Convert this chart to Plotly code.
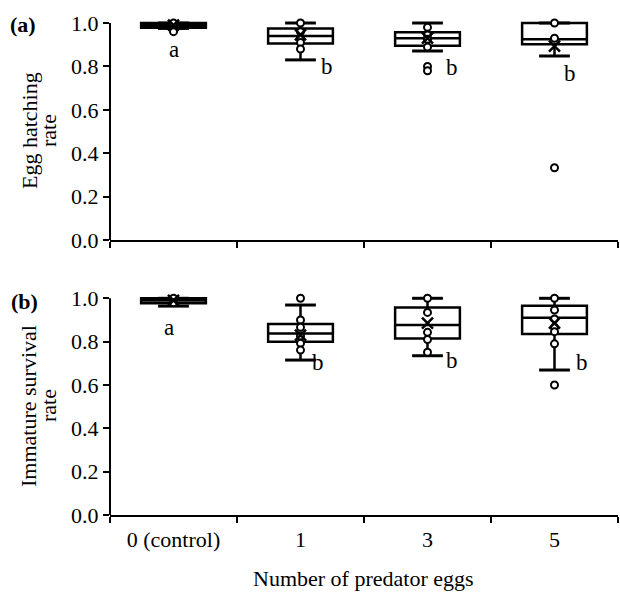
import plotly.graph_objects as go

categories = ["0 (control)", "1", "3", "5"]

# Panel (a): egg hatching rate
hatch_q1 = [0.978, 0.906, 0.895, 0.902]
hatch_median = [0.99, 0.94, 0.93, 0.925]
hatch_q3 = [1.0, 0.975, 0.957, 1.0]
hatch_lower = [0.975, 0.83, 0.871, 0.848]
hatch_upper = [1.0, 1.0, 1.0, 1.0]
hatch_mean = [0.99, 0.945, 0.93, 0.893]
hatch_points = [
    [1.0, 0.96],
    [1.0, 0.96, 0.93, 0.91, 0.88],
    [0.98, 0.945, 0.925, 0.89, 0.80, 0.78],
    [1.0, 0.93, 0.333],
]
hatch_letters = ["a", "b", "b", "b"]

# Panel (b): immature survival rate
surv_q1 = [0.977, 0.80, 0.815, 0.835]
surv_median = [0.99, 0.838, 0.877, 0.91]
surv_q3 = [1.0, 0.881, 0.957, 0.966]
surv_lower = [0.964, 0.715, 0.735, 0.669]
surv_upper = [1.0, 0.969, 1.0, 1.0]
surv_mean = [0.99, 0.83, 0.885, 0.885]
surv_points = [
    [1.0, 0.98],
    [1.0, 0.90, 0.866, 0.826, 0.792, 0.761],
    [1.0, 0.935, 0.843, 0.81, 0.751],
    [1.0, 0.946, 0.905, 0.866, 0.846, 0.79, 0.60],
]
surv_letters = ["a", "b", "b", "b"]

y_ticks = [0.0, 0.2, 0.4, 0.6, 0.8, 1.0]
y_ticktext = ["0.0", "0.2", "0.4", "0.6", "0.8", "1.0"]

FONT = "Liberation Serif"
FS = 22
W, H = 620, 592


def px_y(p):
    return 1 - p / H


fig = go.Figure()


def add_panel(xa, ya, q1, med, q3, lo, up, mean, pts):
    fig.add_trace(go.Box(
        x=categories, q1=q1, median=med, q3=q3, lowerfence=lo, upperfence=up,
        xaxis=xa, yaxis=ya, width=0.51, fillcolor="white",
        line=dict(color="black", width=2.5), boxpoints=False, whiskerwidth=0,
        showlegend=False, hoverinfo="skip"))
    # whisker caps
    cx, cy = [], []
    for c, l, u in zip(categories, lo, up):
        cx += [c, c]
        cy += [l, u]
    fig.add_trace(go.Scatter(
        x=cx, y=cy, mode="markers", xaxis=xa, yaxis=ya, cliponaxis=False,
        marker=dict(symbol="line-ew", size=22, line=dict(color="black", width=3)),
        showlegend=False, hoverinfo="skip"))
    # data points
    px_, py_ = [], []
    for c, p in zip(categories, pts):
        px_ += [c] * len(p)
        py_ += p
    fig.add_trace(go.Scatter(
        x=px_, y=py_, mode="markers", xaxis=xa, yaxis=ya, cliponaxis=False,
        marker=dict(symbol="circle", size=7, color="white",
                    line=dict(color="black", width=2)),
        showlegend=False, hoverinfo="skip"))
    # mean
    fig.add_trace(go.Scatter(
        x=categories, y=mean, mode="markers", xaxis=xa, yaxis=ya, cliponaxis=False,
        marker=dict(symbol="x-thin", size=11, line=dict(color="black", width=2.5)),
        showlegend=False, hoverinfo="skip"))


add_panel("x", "y", hatch_q1, hatch_median, hatch_q3, hatch_lower, hatch_upper,
          hatch_mean, hatch_points)
add_panel("x2", "y2", surv_q1, surv_median, surv_q3, surv_lower, surv_upper,
          surv_mean, surv_points)

xdom = [110 / W, 618 / W]
dom_a = [px_y(240), px_y(16.5)]
dom_b = [px_y(515), px_y(291.8)]

xcommon = dict(type="category", categoryorder="array", categoryarray=categories,
               range=[-0.5, 3.5], tickson="boundaries", ticks="outside",
               ticklen=6, tickwidth=2, tickcolor="black", showline=True,
               linecolor="black", linewidth=2, showgrid=False, zeroline=False,
               automargin=False, domain=xdom,
               tickfont=dict(family=FONT, size=FS, color="black"))
ycommon = dict(range=[0, 1.03], tickvals=y_ticks, ticktext=y_ticktext,
               ticks="outside", ticklen=6, tickwidth=2, tickcolor="black",
               showline=False, showgrid=False, zeroline=False, automargin=False,
               tickfont=dict(family=FONT, size=FS, color="black"))

fig.update_layout(
    width=W, height=H, margin=dict(l=0, r=0, t=0, b=0),
    paper_bgcolor="white", plot_bgcolor="white",
    font=dict(family=FONT, size=FS, color="black"),
    xaxis=dict(xcommon, anchor="y", showticklabels=False),
    yaxis=dict(ycommon, domain=dom_a, anchor="x"),
    xaxis2=dict(xcommon, anchor="y2", showticklabels=True, ticklabelstandoff=4),
    yaxis2=dict(ycommon, domain=dom_b, anchor="x2"),
)

# y axis lines ending at 1.0
for xr, yr in [("x domain", "y"), ("x2 domain", "y2")]:
    fig.add_shape(type="line", xref=xr, yref=yr, x0=0, x1=0, y0=0, y1=1.0,
                  line=dict(color="black", width=2))

# significance letters
letter_off_a = [(0.0, 0.876), (1.205, 0.80), (2.19, 0.797), (3.12, 0.765)]
letter_off_b = [(-0.035, 0.864), (1.14, 0.703), (2.19, 0.712), (3.22, 0.706)]
for (lx, ly), t in zip(letter_off_a, hatch_letters):
    fig.add_annotation(x=lx, y=ly, xref="x", yref="y", text=t, showarrow=False,
                       xanchor="center", yanchor="middle",
                       font=dict(family=FONT, size=23, color="black"))
for (lx, ly), t in zip(letter_off_b, surv_letters):
    fig.add_annotation(x=lx, y=ly, xref="x2", yref="y2", text=t, showarrow=False,
                       xanchor="center", yanchor="middle",
                       font=dict(family=FONT, size=23, color="black"))

# panel labels and axis titles
def txt(x, y, text, angle=0, size=FS):
    fig.add_annotation(x=x / W, y=px_y(y), xref="paper", yref="paper", text=text,
                       textangle=angle, showarrow=False, xanchor="center",
                       yanchor="middle",
                       font=dict(family=FONT, size=size, color="black"))


txt(23, 25, "<b>(a)</b>")
txt(24, 301, "<b>(b)</b>")
txt(29, 131, "Egg hatching", -90)
txt(48, 131, "rate", -90)
txt(28, 406, "Immature survival", -90)
txt(48, 406, "rate", -90)
txt(364, 578, "Number of predator eggs")

fig.write_html("out.html", config={"displayModeBar": False},
               post_script="document.body.style.margin='0';"
                           "document.body.style.padding='0';")
